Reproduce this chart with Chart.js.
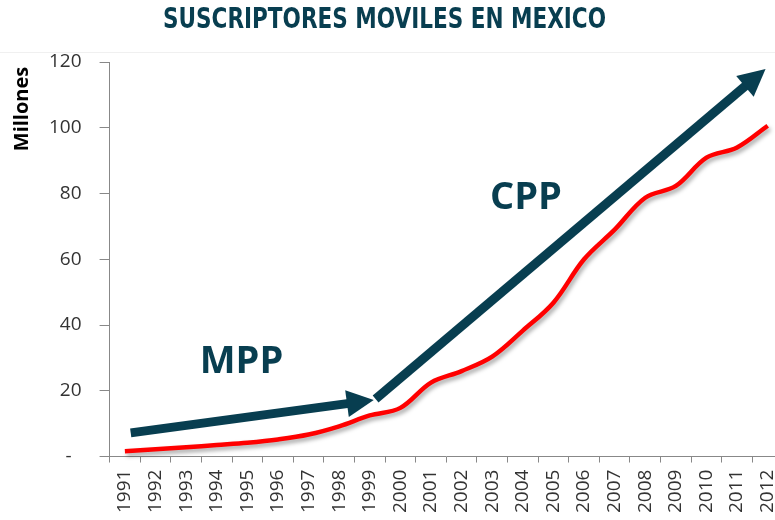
<!DOCTYPE html>
<html>
<head>
<meta charset="utf-8">
<script src="https://cdn.jsdelivr.net/npm/chart.js@4.4.1/dist/chart.umd.min.js"></script>
<style>
html, body { margin: 0; padding: 0; overflow: hidden; background: #fff; }
#wrap { position: absolute; left: 0; top: 0; width: 800px; height: 520px; }
</style>
</head>
<body>
<div id="wrap"><canvas id="grafica"></canvas></div>
<script>
// datos (millones de suscriptores)
const anios = ['1991','1992','1993','1994','1995','1996','1997','1998','1999','2000','2001',
               '2002','2003','2004','2005','2006','2007','2008','2009','2010','2011','2012'];
const suscriptores = [1.6, 2.2, 2.8, 3.5, 4.2, 5.2, 6.7, 9.2, 12.5, 14.8, 22.5,
                      26.0, 30.4, 38.3, 46.8, 60.0, 69.0, 78.7, 82.3, 90.9, 94.0, 100.6];
const yTicks = [0, 20, 40, 60, 80, 100, 120];

// flechas y etiquetas en unidades de datos (indice de anio, millones)
const flechaMPP = [[0.19, 7.2], [8.13, 17.2]];
const flechaCPP = [[8.19, 17.5], [20.93, 117.9]];
const etiquetas = [['MPP', 3.81, 28.6], ['CPP', 13.1, 78.7]];

const titulo = 'SUSCRIPTORES MOVILES EN MEXICO';
const azul = '#083e50';

const sombra = {
  id: 'sombra',
  beforeDatasetDraw(chart) {
    const ctx = chart.ctx;
    ctx.save();
    ctx.shadowColor = 'rgba(0,0,0,0.35)';
    ctx.shadowBlur = 4;
    ctx.shadowOffsetX = 2;
    ctx.shadowOffsetY = 3;
  },
  afterDatasetDraw(chart) {
    chart.ctx.restore();
  }
};

function flecha(ctx, x, y, pts) {
  const x0 = x.getPixelForValue(pts[0][0]), y0 = y.getPixelForValue(pts[0][1]);
  const x1 = x.getPixelForValue(pts[1][0]), y1 = y.getPixelForValue(pts[1][1]);
  const ang = Math.atan2(y1 - y0, x1 - x0);
  const largo = 27, ancho = 13.5;
  const bx = x1 - largo * Math.cos(ang), by = y1 - largo * Math.sin(ang);
  ctx.strokeStyle = azul;
  ctx.fillStyle = azul;
  ctx.lineWidth = 9;
  ctx.lineCap = 'butt';
  ctx.beginPath();
  ctx.moveTo(x0, y0);
  ctx.lineTo(bx + 2 * Math.cos(ang), by + 2 * Math.sin(ang));
  ctx.stroke();
  ctx.beginPath();
  ctx.moveTo(x1, y1);
  ctx.lineTo(bx + ancho * Math.sin(ang), by - ancho * Math.cos(ang));
  ctx.lineTo(bx - ancho * Math.sin(ang), by + ancho * Math.cos(ang));
  ctx.closePath();
  ctx.fill();
}

const anotaciones = {
  id: 'anotaciones',
  afterDraw(chart) {
    const {ctx, scales: {x, y}} = chart;
    ctx.save();
    flecha(ctx, x, y, flechaMPP);
    flecha(ctx, x, y, flechaCPP);
    ctx.fillStyle = azul;
    ctx.font = 'bold 38px "Open Sans", sans-serif';
    ctx.textAlign = 'center';
    ctx.textBaseline = 'middle';
    etiquetas.forEach(e => ctx.fillText(e[0], x.getPixelForValue(e[1]), y.getPixelForValue(e[2])));

    // titulo
    ctx.font = 'bold 29px "DejaVu Sans Condensed", "DejaVu Sans", sans-serif';
    const w = ctx.measureText(titulo).width;
    ctx.translate(384.5, 20);
    ctx.scale(443 / w, 1);
    ctx.fillText(titulo, 0, 0);
    ctx.restore();

    // linea tenue bajo el titulo
    ctx.save();
    ctx.strokeStyle = '#f0f0f0';
    ctx.lineWidth = 1;
    ctx.beginPath();
    ctx.moveTo(0, 52.5);
    ctx.lineTo(chart.width, 52.5);
    ctx.stroke();

    // titulo del eje y
    ctx.translate(22, 109);
    ctx.rotate(-Math.PI / 2);
    ctx.fillStyle = '#000';
    ctx.font = 'bold 20px "Open Sans", sans-serif';
    ctx.textAlign = 'center';
    ctx.textBaseline = 'middle';
    ctx.fillText('Millones', 0, 0);
    ctx.restore();
  }
};

const tickFont = { family: '"Open Sans", sans-serif', size: 19 };

new Chart(document.getElementById('grafica'), {
  type: 'line',
  data: {
    labels: anios,
    datasets: [{
      data: suscriptores,
      borderColor: '#ff0000',
      borderWidth: 4.5,
      pointRadius: 0,
      tension: 0.35,
      fill: false,
      clip: false
    }]
  },
  options: {
    responsive: true,
    maintainAspectRatio: false,
    animation: false,
    layout: { padding: { top: 62, left: 31, right: 17, bottom: 0 } },
    plugins: { legend: { display: false }, tooltip: { enabled: false } },
    scales: {
      x: {
        offset: true,
        border: { display: true, color: '#888', width: 1 },
        grid: { offset: true, drawOnChartArea: false, drawTicks: true, tickLength: 6, color: '#888' },
        ticks: { autoSkip: false, minRotation: 90, maxRotation: 90, padding: 7, color: '#333', font: tickFont }
      },
      y: {
        min: 0,
        max: 120,
        afterBuildTicks(scale) { scale.ticks = yTicks.map(v => ({ value: v })); },
        border: { display: true, color: '#888', width: 1 },
        grid: { drawOnChartArea: false, drawTicks: true, tickLength: 10, color: '#888' },
        ticks: {
          padding: 18,
          color: '#333',
          font: tickFont,
          callback: v => v === 0 ? '-  ' : v
        }
      }
    }
  },
  plugins: [sombra, anotaciones]
});
</script>
</body>
</html>
